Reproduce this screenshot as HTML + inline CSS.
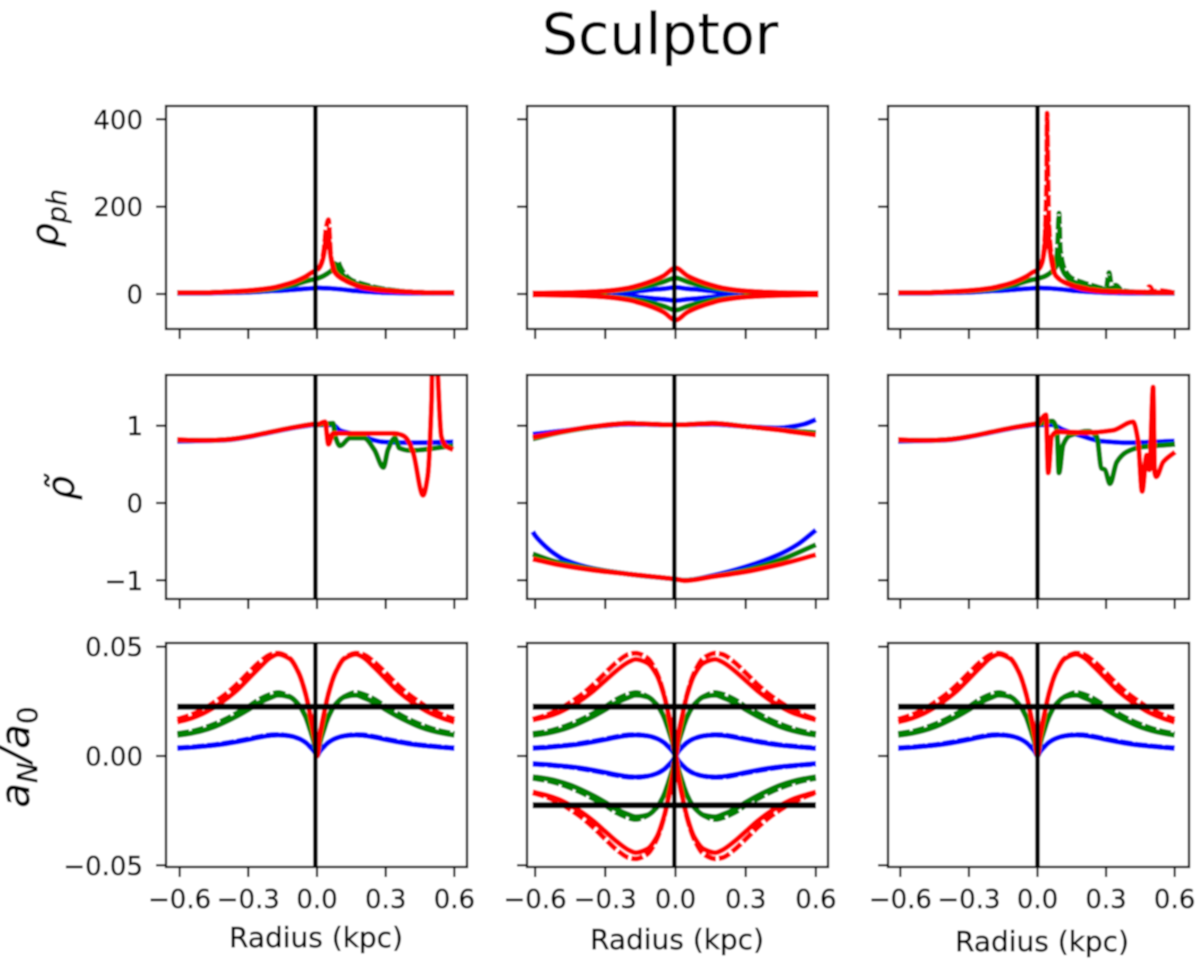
<!DOCTYPE html>
<html>
<head>
<meta charset="utf-8">
<style>
html,body{margin:0;padding:0;background:#fff;}
svg{display:block;font-family:"DejaVu Sans","Liberation Sans",sans-serif;}
</style>
</head>
<body>
<svg id="chart" xmlns="http://www.w3.org/2000/svg" width="1200" height="967" viewBox="0 0 1200 967">
<defs>
<filter id="soft" filterUnits="userSpaceOnUse" x="0" y="0" width="1200" height="967"><feGaussianBlur stdDeviation="0.7"/></filter>
</defs>
<g id="root" filter="url(#soft)">
<rect x="0" y="0" width="1200" height="967" fill="#fff"/>
<text x="660" y="54" font-size="57" text-anchor="middle" fill="#000" stroke="#000" stroke-width="0.3">Sculptor</text>
<text transform="rotate(-90 58 218)" x="58" y="218" font-size="38" font-style="italic" text-anchor="middle" fill="#000" stroke="#000" stroke-width="0.5">ρ<tspan font-size="27" dy="8">ph</tspan></text>
<text transform="rotate(-90 74 488)" x="74" y="488" font-size="38" font-style="italic" text-anchor="middle" fill="#000" stroke="#000" stroke-width="0.5">ρ̃</text>
<text transform="rotate(-90 29 757)" x="29" y="757" font-size="40" font-style="italic" text-anchor="middle" fill="#000" stroke="#000" stroke-width="0.5">a<tspan font-size="28" dy="8">N</tspan><tspan dy="-8">/a</tspan><tspan font-size="28" font-style="normal" dy="8">0</tspan></text>
<text x="316" y="947" font-size="28" text-anchor="middle" fill="#000" stroke="#000" stroke-width="0.45">Radius (kpc)</text>
<text x="677" y="949" font-size="28" text-anchor="middle" fill="#000" stroke="#000" stroke-width="0.45">Radius (kpc)</text>
<text x="1042" y="951" font-size="28" text-anchor="middle" fill="#000" stroke="#000" stroke-width="0.45">Radius (kpc)</text>
</g>
</svg>
<script>
// Tick values
const radiusTicks = [-0.6, -0.3, 0, 0.3, 0.6];
const radiusTickLabels = ['\u22120.6', '\u22120.3', '0.0', '0.3', '0.6'];
const rhoPhTicks = [0, 200, 400];
const rhoPhTickLabels = ['0', '200', '400'];
const rhoTildeTicks = [-1, 0, 1];
const rhoTildeTickLabels = ['\u22121', '0', '1'];
const accelTicks = [-0.05, 0, 0.05];
const accelTickLabels = ['\u22120.05', '0.00', '0.05'];
const a0Levels = [0.0225];

// Row 1, rho_ph: radii and values
const phLeftR = [-0.61, -0.5, -0.4, -0.3, -0.2, -0.15, -0.1, -0.05, -0.02, 0];
const phLeftBlue = [2, 2, 3, 4, 7, 8, 10, 12, 13, 14];
const phLeftGreen = [3, 3, 4.5, 6.5, 11, 16, 21, 29, 33, 35];
const phLeftRed = [3, 3, 5, 8, 14, 20, 28, 40, 50, 55];

const phBlueR = [0, 0.05, 0.1, 0.15, 0.2, 0.3, 0.4, 0.5, 0.6];
const phBlue = [14, 13, 11, 8, 6, 3, 2, 2, 2];

const ph1GreenR = [0, 0.03, 0.06, 0.08, 0.09, 0.1, 0.12, 0.15, 0.2, 0.25, 0.3, 0.4, 0.5, 0.6];
const ph1Green = [35, 42, 52, 60, 62, 52, 40, 28, 20, 14, 10, 5, 3, 3];
const ph1GreenDash = [35, 42, 52, 66, 76, 64, 46, 32, 23, 16, 11, 5, 3, 3];
const ph1RedR = [0, 0.01, 0.02, 0.03, 0.04, 0.05, 0.06, 0.07, 0.08, 0.1, 0.15, 0.2, 0.3, 0.4, 0.5, 0.6];
const ph1Red = [55, 60, 70, 90, 128, 128, 85, 60, 48, 38, 24, 15, 8, 5, 3, 3];
const ph1RedDash = [55, 60, 72, 100, 150, 170, 90, 62, 48, 38, 24, 15, 8, 5, 3, 3];

const ph2R = [0, 0.05, 0.1, 0.15, 0.2, 0.3, 0.4, 0.5, 0.61];
const ph2Blue = [15, 12, 10, 7, 5, 3, 2, 1.5, 1];
const ph2Green = [37, 28, 21, 15, 11, 6, 3.5, 2, 1.5];
const ph2Red = [60, 42, 30, 21, 14, 7, 4, 2.5, 2];

const ph3GreenR = [0, 0.03, 0.06, 0.08, 0.088, 0.094, 0.1, 0.12, 0.15, 0.2, 0.3, 0.4, 0.5, 0.6];
const ph3Green = [35, 40, 50, 62, 85, 90, 70, 45, 30, 20, 10, 5, 3, 3];
const ph3GreenDashR = [0, 0.03, 0.06, 0.08, 0.088, 0.094, 0.1, 0.12, 0.15, 0.2, 0.25, 0.3, 0.313, 0.325, 0.343, 0.37, 0.45, 0.6];
const ph3GreenDash = [35, 40, 50, 62, 110, 185, 100, 55, 36, 26, 18, 12, 49, 18, 20, 8, 4, 3];
const ph3RedR = [0, 0.01, 0.02, 0.03, 0.04, 0.045, 0.05, 0.06, 0.07, 0.08, 0.1, 0.15, 0.2, 0.3, 0.4, 0.5, 0.6];
const ph3Red = [55, 60, 72, 100, 170, 170, 125, 80, 55, 42, 32, 20, 12, 6, 5, 4, 3];
const ph3RedDashR = [0, 0.02, 0.03, 0.04, 0.042, 0.045, 0.05, 0.06, 0.08, 0.15, 0.3, 0.45, 0.47, 0.49, 0.51, 0.53, 0.6];
const ph3RedDash = [55, 72, 110, 260, 414, 300, 160, 90, 42, 20, 6, 4, 4, 17, 5, 8, 3];

// Row 2, rho tilde
const tiLeftR = [-0.61, -0.5, -0.4, -0.3, -0.2, -0.1, 0];
const tiLeftBlue = [0.8, 0.805, 0.815, 0.855, 0.915, 0.975, 1.02];
const tiLeftGreen = [0.815, 0.81, 0.82, 0.86, 0.92, 0.98, 1.03];
const tiLeftRed = [0.82, 0.81, 0.82, 0.86, 0.92, 0.98, 1.03];

const ti1BlueR = [0, 0.07, 0.1, 0.145, 0.217, 0.29, 0.435, 0.595];
const ti1Blue = [1.01, 1.01, 0.94, 0.9, 0.84, 0.79, 0.78, 0.79];
const ti1GreenR = [0, 0.07, 0.08, 0.1, 0.145, 0.205, 0.25, 0.29, 0.31, 0.34, 0.36, 0.405, 0.595];
const ti1Green = [1.01, 1.03, 0.86, 0.74, 0.84, 0.84, 0.69, 0.46, 0.69, 0.84, 0.71, 0.68, 0.74];
const ti1RedR = [0, 0.035, 0.05, 0.07, 0.217, 0.34, 0.37, 0.39, 0.42, 0.463, 0.483, 0.5, 0.51, 0.527, 0.543, 0.565, 0.595];
const ti1Red = [1.01, 1.05, 0.76, 0.9, 0.9, 0.9, 0.88, 0.84, 0.65, 0.1, 0.34, 1.3, 3, 1.7, 0.86, 0.73, 0.69];

const ti2UpperR = [-0.61, -0.49, -0.35, -0.2, 0, 0.157, 0.3, 0.44, 0.5, 0.55, 0.6];
const ti2UpperBlue = [0.89, 0.93, 0.985, 1.02, 1.01, 1.02, 0.99, 0.97, 0.99, 1.02, 1.08];
const ti2UpperGreen = [0.83, 0.915, 0.985, 1.03, 1.01, 1.03, 0.99, 0.95, 0.93, 0.92, 0.91];
const ti2UpperRed = [0.85, 0.92, 0.99, 1.03, 1.01, 1.03, 0.99, 0.945, 0.92, 0.9, 0.88];
const ti2LowerBlueR = [-0.61, -0.6, -0.57, -0.52, -0.47, -0.35, -0.2, 0, 0.04, 0.157, 0.3, 0.44, 0.52, 0.6];
const ti2LowerBlue = [-0.37, -0.42, -0.52, -0.65, -0.74, -0.85, -0.92, -0.985, -1.0, -0.94, -0.825, -0.67, -0.54, -0.35];
const ti2LowerGreenR = [-0.61, -0.5, -0.35, -0.2, 0, 0.04, 0.157, 0.3, 0.44, 0.6];
const ti2LowerGreen = [-0.66, -0.77, -0.855, -0.92, -0.985, -1.0, -0.95, -0.87, -0.745, -0.54];
const ti2LowerRed = [-0.725, -0.8, -0.87, -0.92, -0.985, -1.005, -0.955, -0.89, -0.8, -0.67];

const ti3BlueR = [0, 0.065, 0.11, 0.18, 0.28, 0.4, 0.6];
const ti3Blue = [1.01, 1.01, 0.95, 0.88, 0.8, 0.78, 0.8];
const ti3GreenR = [0, 0.065, 0.085, 0.094, 0.112, 0.14, 0.222, 0.259, 0.28, 0.295, 0.317, 0.347, 0.39, 0.448, 0.602];
const ti3Green = [1.01, 1.06, 0.94, 0.39, 0.75, 0.87, 0.93, 0.86, 0.45, 0.43, 0.25, 0.53, 0.66, 0.72, 0.76];
const ti3RedR = [0, 0.037, 0.047, 0.062, 0.084, 0.215, 0.33, 0.418, 0.44, 0.458, 0.478, 0.49, 0.506, 0.513, 0.52, 0.55, 0.602];
const ti3Red = [1.01, 1.14, 0.39, 0.86, 0.92, 0.91, 0.94, 1.05, 0.81, 0.15, 0.62, 0.43, 1.5, 0.39, 0.34, 0.53, 0.66];

// Row 3, a_N / a_0 (values by absolute radius, reflected across r = 0)
const accelLeftR = [0, 0.01, 0.03, 0.05, 0.08, 0.12, 0.17, 0.2, 0.25, 0.3, 0.35, 0.4, 0.45, 0.5, 0.55, 0.61];
const accelRightR = [0, 0.01, 0.03, 0.05, 0.08, 0.12, 0.17, 0.2, 0.25, 0.3, 0.35, 0.4, 0.45, 0.5, 0.55, 0.6];
const accelBlue = [0, 0.0018, 0.0042, 0.0062, 0.008, 0.0092, 0.0096, 0.0094, 0.0086, 0.0075, 0.0065, 0.0056, 0.0049, 0.0044, 0.0039, 0.0035];
const accelBlueDash = [0, 0.0018, 0.0042, 0.0062, 0.008, 0.0092, 0.0098, 0.0097, 0.0089, 0.0078, 0.0068, 0.0059, 0.0051, 0.0046, 0.0041, 0.0037];
const accelGreen = [0, 0.005, 0.012, 0.018, 0.0235, 0.027, 0.0278, 0.0268, 0.0245, 0.0212, 0.0182, 0.0156, 0.0133, 0.0116, 0.0104, 0.0095];
const accelGreenDash = [0, 0.005, 0.012, 0.018, 0.0235, 0.0272, 0.029, 0.0283, 0.026, 0.0226, 0.0196, 0.0168, 0.0145, 0.0126, 0.0112, 0.0102];
const accelRed = [0, 0.008, 0.019, 0.0285, 0.038, 0.0445, 0.0465, 0.0452, 0.0405, 0.0352, 0.03, 0.0258, 0.0222, 0.0193, 0.0172, 0.0155];
const accelRedMiddle = [0, 0.008, 0.019, 0.028, 0.037, 0.0425, 0.0442, 0.043, 0.0392, 0.0345, 0.0298, 0.0258, 0.0225, 0.0198, 0.018, 0.0165];
const accelRedDash = [0, 0.008, 0.019, 0.0285, 0.038, 0.0448, 0.047, 0.0465, 0.043, 0.038, 0.0328, 0.0282, 0.0245, 0.0212, 0.0188, 0.0168];

const BLUE = '#0000ff', GREEN = '#008000', RED = '#ff0000';
const svgNS = 'http://www.w3.org/2000/svg';
const root = document.getElementById('root');

const columns = [
  { name: 'left', left: 166, right: 467, center: 317, scale: 229, rule: -0.007 },
  { name: 'middle', left: 527, right: 828, center: 675.5, scale: 234, rule: -0.005 },
  { name: 'right', left: 888, right: 1189, center: 1037.5, scale: 228.5, rule: 0 }
];
const rows = [
  { name: 'rho-ph', top: 106, bottom: 329, zero: 294, scale: 0.4367, ticks: rhoPhTicks, labels: rhoPhTickLabels },
  { name: 'rho-tilde', top: 375, bottom: 599, zero: 503, scale: 77.3, ticks: rhoTildeTicks, labels: rhoTildeTickLabels },
  { name: 'accel', top: 643, bottom: 867, zero: 756, scale: 2187, ticks: accelTicks, labels: accelTickLabels }
];

function neg(values) { return values.map(function (v) { return -v; }); }
function flip(values) { return values.slice().reverse(); }
function line(r, v, color, dashed) { return { r: r, v: v, color: color, dashed: !!dashed }; }
function reflect(v) { return flip(v).concat(v); }
function accelX() { return flip(accelLeftR).map(function (r) { return -r; }).concat(accelRightR); }

function phLeftLines() {
  return [line(phLeftR, phLeftBlue, BLUE), line(phLeftR, phLeftGreen, GREEN), line(phLeftR, phLeftRed, RED)];
}
function tiLeftLines() {
  return [line(tiLeftR, tiLeftBlue, BLUE), line(tiLeftR, tiLeftGreen, GREEN), line(tiLeftR, tiLeftRed, RED)];
}
function accelLines(sign, redSolid) {
  const s = sign < 0 ? neg : function (v) { return v; };
  return [
    line(accelX(), s(reflect(accelBlueDash)), BLUE, true),
    line(accelX(), s(reflect(accelBlue)), BLUE),
    line(accelX(), s(reflect(accelGreenDash)), GREEN, true),
    line(accelX(), s(reflect(accelGreen)), GREEN),
    line(accelX(), s(reflect(accelRedDash)), RED, true),
    line(accelX(), s(reflect(redSolid)), RED)
  ];
}
function ph2Side(v, sign) {
  const full = reflect(v);
  const x = flip(ph2R).map(function (r) { return -r; }).concat(ph2R);
  return line(x, sign < 0 ? neg(full) : full, v === ph2Blue ? BLUE : v === ph2Green ? GREEN : RED);
}

const panels = [
  [
    { lines: phLeftLines().concat([
        line(phBlueR, phBlue, BLUE),
        line(ph1GreenR, ph1GreenDash, GREEN, true), line(ph1GreenR, ph1Green, GREEN),
        line(ph1RedR, ph1RedDash, RED, true), line(ph1RedR, ph1Red, RED)]), levels: [] },
    { lines: [ph2Side(ph2Blue, 1), ph2Side(ph2Blue, -1), ph2Side(ph2Green, 1), ph2Side(ph2Green, -1), ph2Side(ph2Red, 1), ph2Side(ph2Red, -1)], levels: [] },
    { lines: phLeftLines().concat([
        line(phBlueR, phBlue, BLUE),
        line(ph3GreenDashR, ph3GreenDash, GREEN, true), line(ph3GreenR, ph3Green, GREEN),
        line(ph3RedDashR, ph3RedDash, RED, true), line(ph3RedR, ph3Red, RED)]), levels: [] }
  ],
  [
    { lines: tiLeftLines().concat([line(ti1BlueR, ti1Blue, BLUE), line(ti1GreenR, ti1Green, GREEN), line(ti1RedR, ti1Red, RED)]), levels: [] },
    { lines: [
        line(ti2UpperR, ti2UpperBlue, BLUE), line(ti2UpperR, ti2UpperGreen, GREEN), line(ti2UpperR, ti2UpperRed, RED),
        line(ti2LowerBlueR, ti2LowerBlue, BLUE), line(ti2LowerGreenR, ti2LowerGreen, GREEN), line(ti2LowerGreenR, ti2LowerRed, RED)], levels: [] },
    { lines: tiLeftLines().concat([line(ti3BlueR, ti3Blue, BLUE), line(ti3GreenR, ti3Green, GREEN), line(ti3RedR, ti3Red, RED)]), levels: [] }
  ],
  [
    { lines: accelLines(1, accelRed), levels: a0Levels },
    { lines: accelLines(1, accelRedMiddle).concat(accelLines(-1, accelRedMiddle)), levels: a0Levels.concat(neg(a0Levels)) },
    { lines: accelLines(1, accelRed), levels: a0Levels }
  ]
];

function make(tag, attrs, parent) {
  const el = document.createElementNS(svgNS, tag);
  Object.keys(attrs).forEach(function (k) { el.setAttribute(k, attrs[k]); });
  parent.appendChild(el);
  return el;
}

// Monotone cubic path through the scaled points, so peaks stay sharp without overshoot.
function smoothPath(xs, ys) {
  const px = [], py = [];
  xs.forEach(function (x, i) {
    if (!px.length || x - px[px.length - 1] > 0.01) { px.push(x); py.push(ys[i]); }
  });
  const n = px.length;
  const sec = [];
  for (let i = 0; i < n - 1; i++) sec.push((py[i + 1] - py[i]) / (px[i + 1] - px[i]));
  const tan = [sec[0]];
  for (let i = 1; i < n - 1; i++) {
    tan.push(sec[i - 1] * sec[i] <= 0 ? 0 : 2 * sec[i - 1] * sec[i] / (sec[i - 1] + sec[i]));
  }
  tan.push(sec[n - 2]);
  let d = 'M' + px[0].toFixed(2) + ' ' + py[0].toFixed(2);
  for (let i = 0; i < n - 1; i++) {
    const h = (px[i + 1] - px[i]) / 3;
    d += 'C' + (px[i] + h).toFixed(2) + ' ' + (py[i] + tan[i] * h).toFixed(2) + ' ' +
      (px[i + 1] - h).toFixed(2) + ' ' + (py[i + 1] - tan[i + 1] * h).toFixed(2) + ' ' +
      px[i + 1].toFixed(2) + ' ' + py[i + 1].toFixed(2);
  }
  return d;
}

const defs = document.querySelector('defs');

rows.forEach(function (row, ri) {
  columns.forEach(function (col, ci) {
    const xOf = function (r) { return col.center + r * col.scale; };
    const yOf = function (v) { return row.zero - v * row.scale; };
    const panel = panels[ri][ci];

    const clipId = 'clip-' + ri + '-' + ci;
    const clip = make('clipPath', { id: clipId }, defs);
    make('rect', { x: col.left, y: row.top, width: col.right - col.left, height: row.bottom - row.top }, clip);

    const g = make('g', {}, root);
    
    

    const plot = make('g', { 'clip-path': 'url(#' + clipId + ')' }, g);

    panel.lines.forEach(function (s) {
      const pl = make('path', {
        d: smoothPath(s.r.map(xOf), s.v.map(yOf)), fill: 'none', stroke: s.color,
        'stroke-width': 5.2, 'stroke-linejoin': 'round'
      }, plot);
      if (s.dashed) pl.setAttribute('stroke-dasharray', '12 3');
      
      
    });

    const vr = make('line', {
      x1: xOf(col.rule), x2: xOf(col.rule), y1: row.top, y2: row.bottom,
      stroke: '#000', 'stroke-width': 4.6
    }, plot);
    
    

    panel.levels.forEach(function (lv) {
      const hr = make('line', {
        x1: xOf(-0.61), x2: xOf(0.6), y1: yOf(lv), y2: yOf(lv),
        stroke: '#000', 'stroke-width': 6
      }, plot);
      
      
    });

    const frame = make('rect', {
      x: col.left, y: row.top, width: col.right - col.left, height: row.bottom - row.top,
      fill: 'none', stroke: '#000', 'stroke-width': 2.3
    }, g);
    
    

    radiusTicks.forEach(function (t, i) {
      const x = xOf(t);
      const tk = make('line', { x1: x, x2: x, y1: row.bottom, y2: row.bottom + 10, stroke: '#000', 'stroke-width': 2.2 }, g);
      
      
      if (ri === 2) {
        const lb = make('text', { x: x, y: 908, 'font-size': 26, 'text-anchor': 'middle', fill: '#000', stroke: '#000', 'stroke-width': 0.45 }, g);
        lb.textContent = radiusTickLabels[i];
        
        
      }
    });

    row.ticks.forEach(function (t, i) {
      const y = yOf(t);
      const tk = make('line', { x1: col.left - 10, x2: col.left, y1: y, y2: y, stroke: '#000', 'stroke-width': 2.2 }, g);
      
      
      if (ci === 0) {
        const lb = make('text', { x: 143, y: y + 9.5, 'font-size': 26, 'text-anchor': 'end', fill: '#000', stroke: '#000', 'stroke-width': 0.45 }, g);
        lb.textContent = row.labels[i];
        
        
      }
    });
  });
});
</script>
</body>
</html>
